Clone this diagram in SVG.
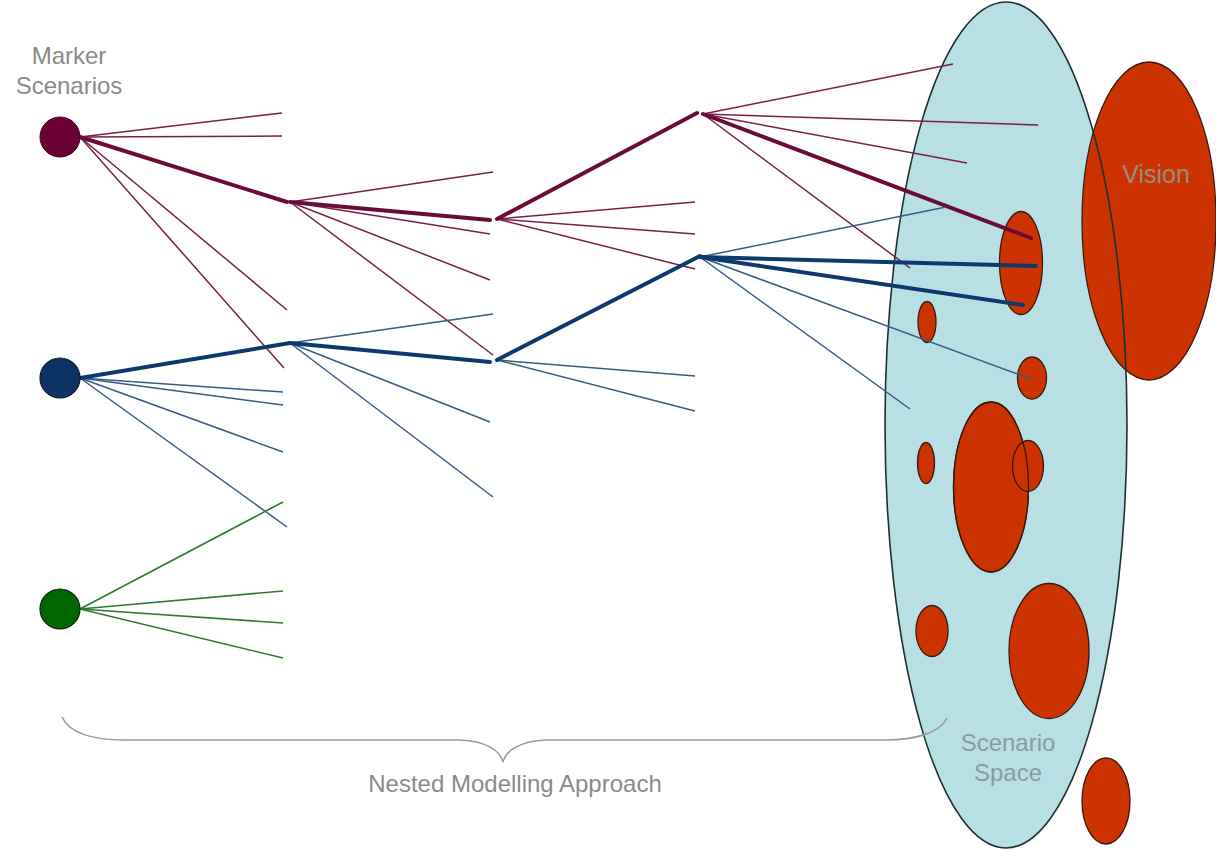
<svg xmlns="http://www.w3.org/2000/svg" width="1216" height="851" viewBox="0 0 1216 851">
  <style>
    .label { font-family: "Liberation Sans", Arial, sans-serif; font-size: 24px; fill: #8a8a8a; }
    .space-label { font-family: "Liberation Sans", Arial, sans-serif; font-size: 24px; fill: #8a9ca1; }
    .vision-label { font-family: "Liberation Sans", Arial, sans-serif; font-size: 25px; fill: #9a8a80; }
    .blob { fill: #cc3300; stroke: #3a1a0a; stroke-width: 1.3; }
    .outline { fill: none; stroke: #3a1a0a; stroke-width: 1.3; }
    .m { stroke: #7a2048; stroke-width: 1.5; fill: none; }
    .mt { stroke: #6b0b38; stroke-width: 4; fill: none; stroke-linecap: round; }
    .n { stroke: #365c88; stroke-width: 1.5; fill: none; }
    .nt { stroke: #0d3a6e; stroke-width: 4; fill: none; stroke-linecap: round; }
    .g { stroke: #2e7d2e; stroke-width: 1.6; fill: none; }
    .brace { fill: none; stroke: #9a9a9a; stroke-width: 1.6; }
  </style>

  <!-- scenario space (fill only; its outline is drawn above the vision) -->
  <g id="scenario-space">
    <ellipse cx="1006" cy="425" rx="121" ry="423" fill="#b8dfe4"/>
  </g>

  <!-- vision -->
  <g id="vision">
    <ellipse cx="1149" cy="221" rx="67" ry="159" class="blob"/>
    <text x="1156" y="183" text-anchor="middle" class="vision-label">Vision</text>
  </g>

  <ellipse id="scenario-space-outline" cx="1006" cy="425" rx="121" ry="423" fill="none" stroke="#1f2f30" stroke-width="1.6"/>

  <!-- outcome blobs inside the scenario space -->
  <g id="outcomes">
    <ellipse cx="1021" cy="263" rx="21.5" ry="51.5" class="blob"/>
    <ellipse cx="927" cy="322" rx="9" ry="20.5" class="blob"/>
    <ellipse cx="1032" cy="378" rx="14.5" ry="21" class="blob"/>
    <ellipse cx="991" cy="487" rx="37.5" ry="85" class="blob"/>
    <ellipse cx="1028" cy="466" rx="15.5" ry="25.5" class="blob"/>
    <ellipse cx="991" cy="487" rx="37.5" ry="85" class="outline"/>
    <ellipse cx="926" cy="463" rx="8.5" ry="20.5" class="blob"/>
    <ellipse cx="932" cy="631" rx="16" ry="25.5" class="blob"/>
    <ellipse cx="1049" cy="651" rx="40" ry="67.5" class="blob"/>
    <ellipse cx="1106" cy="801" rx="24" ry="43" class="blob"/>
  </g>

  <!-- branching connectors -->
  <g id="connectors">
    <!-- maroon tree -->
    <line class="m" x1="80" y1="137" x2="282" y2="113"/>
    <line class="m" x1="80" y1="137" x2="282" y2="136"/>
    <line class="m" x1="80" y1="137" x2="287" y2="310"/>
    <line class="m" x1="80" y1="137" x2="284" y2="368"/>
    <line class="mt" x1="80" y1="137" x2="287" y2="202"/>

    <line class="m" x1="290" y1="202" x2="493" y2="172"/>
    <line class="m" x1="290" y1="202" x2="490" y2="234"/>
    <line class="m" x1="290" y1="202" x2="490" y2="280"/>
    <line class="m" x1="290" y1="202" x2="493" y2="355"/>
    <line class="mt" x1="290" y1="202" x2="490" y2="220"/>

    <line class="m" x1="497" y1="219" x2="695" y2="202"/>
    <line class="m" x1="497" y1="219" x2="695" y2="234"/>
    <line class="m" x1="497" y1="219" x2="695" y2="269"/>
    <line class="mt" x1="497" y1="219" x2="697" y2="113"/>

    <line class="m" x1="703" y1="114" x2="953" y2="64"/>
    <line class="m" x1="703" y1="114" x2="1038" y2="125"/>
    <line class="m" x1="703" y1="114" x2="967" y2="163"/>
    <line class="m" x1="703" y1="114" x2="910" y2="268"/>
    <line class="mt" x1="703" y1="114" x2="1031" y2="238"/>

    <!-- navy tree -->
    <line class="n" x1="80" y1="378" x2="283" y2="392"/>
    <line class="n" x1="80" y1="378" x2="283" y2="405"/>
    <line class="n" x1="80" y1="378" x2="283" y2="452"/>
    <line class="n" x1="80" y1="378" x2="287" y2="527"/>
    <line class="nt" x1="80" y1="378" x2="290" y2="343"/>

    <line class="n" x1="290" y1="343" x2="493" y2="314"/>
    <line class="n" x1="290" y1="343" x2="490" y2="422"/>
    <line class="n" x1="290" y1="343" x2="493" y2="497"/>
    <line class="nt" x1="290" y1="343" x2="490" y2="362"/>

    <line class="n" x1="497" y1="360" x2="695" y2="376"/>
    <line class="n" x1="497" y1="360" x2="695" y2="411"/>
    <line class="nt" x1="497" y1="360" x2="700" y2="256"/>

    <line class="n" x1="700" y1="257" x2="946" y2="207"/>
    <line class="n" x1="700" y1="257" x2="1031" y2="379"/>
    <line class="n" x1="700" y1="257" x2="910" y2="409"/>
    <line class="nt" x1="700" y1="257" x2="1036" y2="266"/>
    <line class="nt" x1="700" y1="257" x2="1023" y2="305"/>

    <!-- green tree -->
    <line class="g" x1="80" y1="609" x2="283" y2="502"/>
    <line class="g" x1="80" y1="609" x2="283" y2="591"/>
    <line class="g" x1="80" y1="609" x2="283" y2="623"/>
    <line class="g" x1="80" y1="609" x2="283" y2="658"/>
  </g>

  <!-- marker scenario roots -->
  <g id="marker-maroon">
    <circle cx="60" cy="137" r="20" fill="#6b0033" stroke="#3a0a1e" stroke-width="1"/>
  </g>
  <g id="marker-navy">
    <circle cx="60" cy="378" r="20" fill="#0d3366" stroke="#1a1a1a" stroke-width="1.2"/>
  </g>
  <g id="marker-green">
    <circle cx="60" cy="609" r="20" fill="#006600" stroke="#1a1a1a" stroke-width="1.2"/>
  </g>

  <g id="marker-title">
    <text x="69" y="64" text-anchor="middle" class="label">Marker</text>
    <text x="69" y="94" text-anchor="middle" class="label">Scenarios</text>
  </g>

  <!-- brace under the nested models -->
  <g id="nested-approach">
    <path class="brace" d="M62,717 C70,734 95,740 125,740 L460,740 C485,741 500,750 503,762 C506,750 521,741 546,740 L885,740 C915,740 940,733 947,718"/>
    <text x="515" y="792" text-anchor="middle" class="label">Nested Modelling Approach</text>
  </g>

  <g id="scenario-space-label">
    <text x="1008" y="751" text-anchor="middle" class="space-label">Scenario</text>
    <text x="1008" y="781" text-anchor="middle" class="space-label">Space</text>
  </g>
</svg>
